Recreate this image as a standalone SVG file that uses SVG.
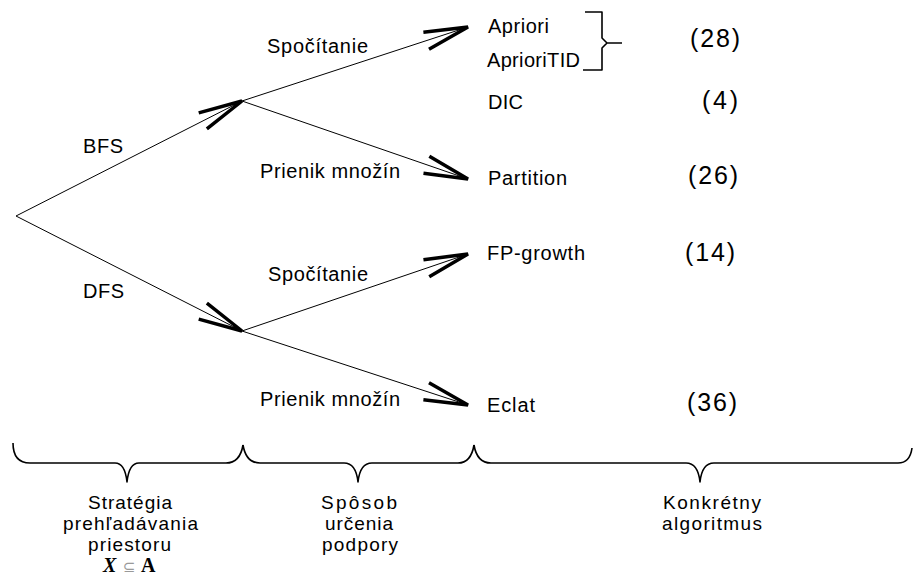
<svg xmlns="http://www.w3.org/2000/svg" width="914" height="584" viewBox="0 0 914 584">
<style>
.bg{fill:#fff}
.t{font-family:"Liberation Sans",Arial,sans-serif;font-size:20px;fill:#000}
.b{font-family:"Liberation Sans",Arial,sans-serif;font-size:19px;fill:#000}
.n{font-family:"Liberation Sans",Arial,sans-serif;font-size:25px;fill:#000}
.ln{stroke:#000;stroke-width:1;fill:none}
.br{stroke:#000;stroke-width:1.6;fill:none;stroke-linejoin:round}
.m{font-family:"Liberation Serif","Times New Roman",serif;font-size:20px;font-weight:bold}
</style>
<defs>
<marker id="ah" viewBox="-50 -12 54 24" refX="0" refY="0" markerWidth="54" markerHeight="24" markerUnits="userSpaceOnUse" orient="auto">
<path d="M-44,-9 L0,0 L-44,9" fill="none" stroke="#000" stroke-width="3.5" stroke-miterlimit="3"/>
</marker>
</defs>
<rect class="bg" x="0" y="0" width="914" height="584"/>
<g id="connectors">
<line class="ln" x1="16" y1="216" x2="242" y2="101" marker-end="url(#ah)"/>
<line class="ln" x1="16" y1="216" x2="242" y2="331" marker-end="url(#ah)"/>
<line class="ln" x1="242" y1="101" x2="468" y2="27" marker-end="url(#ah)"/>
<line class="ln" x1="242" y1="101" x2="468" y2="179" marker-end="url(#ah)"/>
<line class="ln" x1="242" y1="331" x2="468" y2="254" marker-end="url(#ah)"/>
<line class="ln" x1="242" y1="331" x2="468" y2="405" marker-end="url(#ah)"/>
</g>
<g id="edge-labels">
<text class="t" x="83" y="153" textLength="40">BFS</text>
<text class="t" x="83" y="298" textLength="41">DFS</text>
<text class="t" x="267" y="53" textLength="101">Spočítanie</text>
<text class="t" x="260" y="178" textLength="140">Prienik množín</text>
<text class="t" x="268" y="281" textLength="100">Spočítanie</text>
<text class="t" x="260" y="406" textLength="140">Prienik množín</text>
</g>
<g id="apriori"><text class="t" x="488" y="33" textLength="61">Apriori</text></g>
<g id="aprioritid"><text class="t" x="487" y="67" textLength="93">AprioriTID</text></g>
<g id="bracket"><path class="br" d="M585,12 H602 V38 L607,43 L602,48 V70 H583 M607,43 H622"/></g>
<g id="n28"><text class="n" x="690" y="47" textLength="50">(28)</text></g>
<g id="dic"><text class="t" x="488" y="109" textLength="35">DIC</text></g>
<g id="n4"><text class="n" x="702" y="109" textLength="36">(4)</text></g>
<g id="partition"><text class="t" x="488" y="185" textLength="79">Partition</text></g>
<g id="n26"><text class="n" x="688" y="184" textLength="50">(26)</text></g>
<g id="fpgrowth"><text class="t" x="487" y="260" textLength="98">FP-growth</text></g>
<g id="n14"><text class="n" x="685" y="261" textLength="50">(14)</text></g>
<g id="eclat"><text class="t" x="487" y="412" textLength="48">Eclat</text></g>
<g id="n36"><text class="n" x="687" y="411" textLength="50">(36)</text></g>
<g id="braces">
<path class="br" d="M13,443 Q13,463 30,463 H115 Q125,463 127,482 Q129,463 139,463 H226 Q240,463 243,445"/>
<path class="br" d="M243,445 Q246,463 260,463 H344 Q356,463 358,482 Q360,463 372,463 H458 Q471,463 474,445"/>
<path class="br" d="M474,445 Q477,463 491,463 H686 Q698,463 700,482 Q702,463 714,463 H898 Q910,463 912,448"/>
</g>
<g id="label-strategy">
<text class="b" x="88" y="509" textLength="84">Stratégia</text>
<text class="b" x="63" y="530" textLength="135">prehľadávania</text>
<text class="b" x="88" y="551" textLength="83">priestoru</text>
<text x="103" y="572" class="m"><tspan font-style="italic">X</tspan><tspan x="123" fill="#999" font-weight="normal" font-family="DejaVu Sans, sans-serif" font-size="15">⊆</tspan><tspan x="141">A</tspan></text>
</g>
<g id="label-support">
<text class="b" x="321" y="509" textLength="76">Spôsob</text>
<text class="b" x="325" y="530" textLength="68">určenia</text>
<text class="b" x="322" y="551" textLength="76">podpory</text>
</g>
<g id="label-algorithm">
<text class="b" x="663" y="509" textLength="98">Konkrétny</text>
<text class="b" x="662" y="530" textLength="100">algoritmus</text>
</g>
</svg>
